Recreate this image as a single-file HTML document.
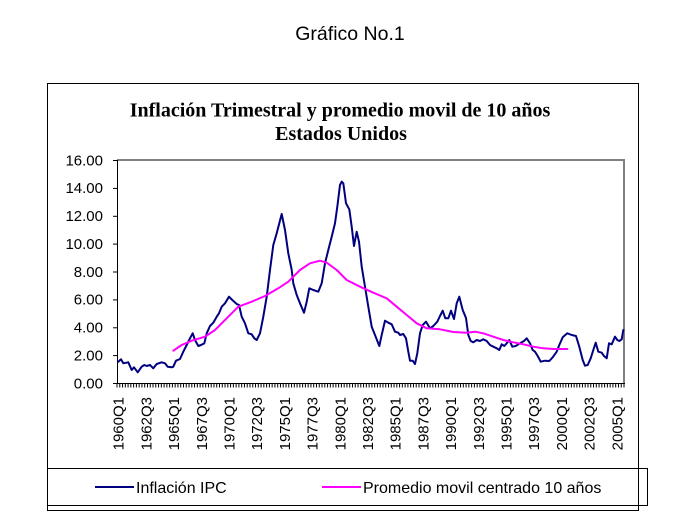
<!DOCTYPE html>
<html>
<head>
<meta charset="utf-8">
<style>
  html,body{margin:0;padding:0;background:#fff;}
  svg{display:block;}
</style>
</head>
<body>
<svg width="692" height="529" viewBox="0 0 692 529" xmlns="http://www.w3.org/2000/svg">
  <rect x="0" y="0" width="692" height="529" fill="#fff"/>
  <!-- Page title -->
  <text x="350" y="40" text-anchor="middle" font-family="Liberation Sans, Arial, sans-serif" font-size="19.5" fill="#000">Gráfico No.1</text>

  <!-- Outer chart box -->
  <rect x="47.5" y="83.5" width="591" height="427" fill="none" stroke="#000" stroke-width="1"/>

  <!-- Chart title -->
  <text x="340" y="116.5" text-anchor="middle" font-family="Liberation Serif, 'Times New Roman', serif" font-weight="bold" font-size="20" fill="#000">Inflación Trimestral y promedio movil de 10 años</text>
  <text x="341" y="140" text-anchor="middle" font-family="Liberation Serif, 'Times New Roman', serif" font-weight="bold" font-size="20" fill="#000">Estados Unidos</text>

  <!-- Plot frame (gray top/right) -->
  <line x1="117" y1="160" x2="625" y2="160" stroke="#808080" stroke-width="2"/>
  <line x1="624" y1="159" x2="624" y2="383" stroke="#808080" stroke-width="2"/>
  <!-- Axes -->
  <line x1="117.5" y1="160" x2="117.5" y2="384" stroke="#000" stroke-width="1"/>
  <line x1="113" y1="383.5" x2="625" y2="383.5" stroke="#000" stroke-width="1"/>

  <!-- Y ticks -->
  <g stroke="#000" stroke-width="1">
    <line x1="113" y1="355.6" x2="117" y2="355.6"/>
    <line x1="113" y1="327.8" x2="117" y2="327.8"/>
    <line x1="113" y1="299.9" x2="117" y2="299.9"/>
    <line x1="113" y1="272" x2="117" y2="272"/>
    <line x1="113" y1="244.1" x2="117" y2="244.1"/>
    <line x1="113" y1="216.3" x2="117" y2="216.3"/>
    <line x1="113" y1="188.4" x2="117" y2="188.4"/>
    <line x1="113" y1="160.5" x2="117" y2="160.5"/>
  </g>
  <!-- X ticks (every quarter) -->
  <line x1="116.5" y1="385.5" x2="624.5" y2="385.5" stroke="#000" stroke-width="4" stroke-dasharray="1 1.7705"/>

  <!-- Y labels -->
  <g font-family="Liberation Sans, Arial, sans-serif" font-size="15" fill="#000" text-anchor="end">
    <text x="103" y="388.3">0.00</text>
    <text x="103" y="360.4">2.00</text>
    <text x="103" y="332.6">4.00</text>
    <text x="103" y="304.7">6.00</text>
    <text x="103" y="276.8">8.00</text>
    <text x="103" y="248.9">10.00</text>
    <text x="103" y="221.1">12.00</text>
    <text x="103" y="193.2">14.00</text>
    <text x="103" y="165.3">16.00</text>
  </g>

  <!-- X labels -->
  <g font-family="Liberation Sans, Arial, sans-serif" font-size="15" fill="#000" text-anchor="end">
    <text transform="translate(118.4,397) rotate(-90)" dy="0.35em">1960Q1</text>
    <text transform="translate(146.1,397) rotate(-90)" dy="0.35em">1962Q3</text>
    <text transform="translate(173.8,397) rotate(-90)" dy="0.35em">1965Q1</text>
    <text transform="translate(201.5,397) rotate(-90)" dy="0.35em">1967Q3</text>
    <text transform="translate(229.2,397) rotate(-90)" dy="0.35em">1970Q1</text>
    <text transform="translate(256.9,397) rotate(-90)" dy="0.35em">1972Q3</text>
    <text transform="translate(284.6,397) rotate(-90)" dy="0.35em">1975Q1</text>
    <text transform="translate(312.3,397) rotate(-90)" dy="0.35em">1977Q3</text>
    <text transform="translate(340.0,397) rotate(-90)" dy="0.35em">1980Q1</text>
    <text transform="translate(367.7,397) rotate(-90)" dy="0.35em">1982Q3</text>
    <text transform="translate(395.4,397) rotate(-90)" dy="0.35em">1985Q1</text>
    <text transform="translate(423.1,397) rotate(-90)" dy="0.35em">1987Q3</text>
    <text transform="translate(450.8,397) rotate(-90)" dy="0.35em">1990Q1</text>
    <text transform="translate(478.5,397) rotate(-90)" dy="0.35em">1992Q3</text>
    <text transform="translate(506.2,397) rotate(-90)" dy="0.35em">1995Q1</text>
    <text transform="translate(533.9,397) rotate(-90)" dy="0.35em">1997Q3</text>
    <text transform="translate(561.6,397) rotate(-90)" dy="0.35em">2000Q1</text>
    <text transform="translate(589.3,397) rotate(-90)" dy="0.35em">2002Q3</text>
    <text transform="translate(617.0,397) rotate(-90)" dy="0.35em">2005Q1</text>
  </g>

  <!-- Series: Inflación IPC -->
  <polyline fill="none" stroke="#000080" stroke-width="2" stroke-linejoin="round" stroke-linecap="round" points="
    118.3,361.7 121,359.3 123.3,363.3 128.3,362.3 131.7,370 134,367.3 137.7,372.3 141.7,366.7 144.3,365 146.7,366
    150,365 153.3,368.3 156.7,364 161.7,362.3 165,363.3 167.7,366.7 171.7,367.3 173.3,366.7 176,360.7 180,359
    183.3,351.7 186.7,345 190,338.3 192.7,333.3 195,340 198.3,346 201,345 204.3,343.3 206.7,333.3 210,326
    213.3,322.7 216.7,316.7 219,313.3 221.7,306.7 225,303.3 229,296.7 232.3,300 236.7,304 239,305 241.7,316.7
    245,323.3 248.3,333.3 251.7,334.3 254.3,338.3 256.7,340 260,333.3 263.3,316.7 266.7,296.7 270,270 273.3,245
    276.7,233.3 281.7,214 285,230 288.3,253.3 291.7,270 293.3,283.3 296.7,295 300,303.3 304,312.7 306.7,301.7
    309.3,288.3 313.3,290 318.3,291.7 321.7,283.3 325,263.3 328.3,250 331.7,236.7 335,223.3 337.3,206.7 340,185
    341.7,181.7 343.3,183.3 346,203.3 349.3,209.3 351.7,226.7 354,246 356.7,231.7 359,241.7 361.7,266.7 365,286.7
    368.3,306.7 371.7,326.7 375,335 379.3,346 381.7,335 385,320.7 388.3,322.7 391.7,324.3 395,331.7 398.3,332.7
    400,335 403.3,334 406,338.3 408.3,351.7 410,360.7 412.7,360.7 415,364 417.3,353.3 420,333.3 422.7,325
    426,321.7 430,328.3 433.3,326 437.3,321.7 440,316 442.7,310.7 445.3,318.3 448.3,318.3 451,310.7 454,319
    456.7,303.3 459.3,296.7 462.7,310 466,318 468.3,335 470.7,341 473.3,342.3 476.7,340 480,341 483.3,339.3
    486.7,341 490,345 493.3,346.7 496.7,348.3 499.3,350 501.7,344.3 504.3,346 506.7,343.3 509.3,340 512.3,346.7
    515.7,346 520,343.3 524,341 526.7,338.3 530,343.3 532.7,350 535,351.7 537.7,356 540.7,361.7 545,360.7
    549.3,361 552.7,357.3 556.7,351.7 559.3,345 562.7,337.3 567.3,333.3 571.7,335 576,336 579.3,346.7 582.7,360
    585,365.7 587.7,365 590.7,358.3 593.3,350 595.7,342.7 598.3,351.7 601.7,352.7 604,356 606.7,358.3 609,343.3
    611.7,344.3 615,336.7 617.3,340 619.3,341 621.7,339.3 623.3,330"/>

  <!-- Series: Promedio movil -->
  <polyline fill="none" stroke="#FF00FF" stroke-width="2" stroke-linejoin="round" stroke-linecap="round" points="
    173.3,350.7 181.7,345 191.7,340.7 205,336.7 215,330 228.3,316.7 238.3,306.7 251.7,301.7 265,296 278.3,288.3
    288.3,281.7 300,270 310,263.3 320,260.7 326.7,262.7 336.7,270 346.7,280 360,286.7 373.3,292.7 386.7,298.3
    396.7,306.7 406.7,315 416.7,323.3 426.7,328.3 440,329.3 453.3,332 466.7,332.7 475,331.7 483.3,333.3 493.3,336.7
    503.3,340 513.3,342.3 523.3,344.3 533.3,346.7 543.3,348.3 553.3,349 567.3,349"/>

  <!-- Legend box -->
  <rect x="47.5" y="468.5" width="600" height="37" fill="none" stroke="#000" stroke-width="1"/>
  <line x1="95" y1="487" x2="134" y2="487" stroke="#000080" stroke-width="2"/>
  <text x="136" y="493" font-family="Liberation Sans, Arial, sans-serif" font-size="16" fill="#000">Inflación IPC</text>
  <line x1="322" y1="487" x2="361" y2="487" stroke="#FF00FF" stroke-width="2"/>
  <text x="363" y="493" font-family="Liberation Sans, Arial, sans-serif" font-size="16" fill="#000">Promedio movil centrado 10 años</text>
</svg>
</body>
</html>
